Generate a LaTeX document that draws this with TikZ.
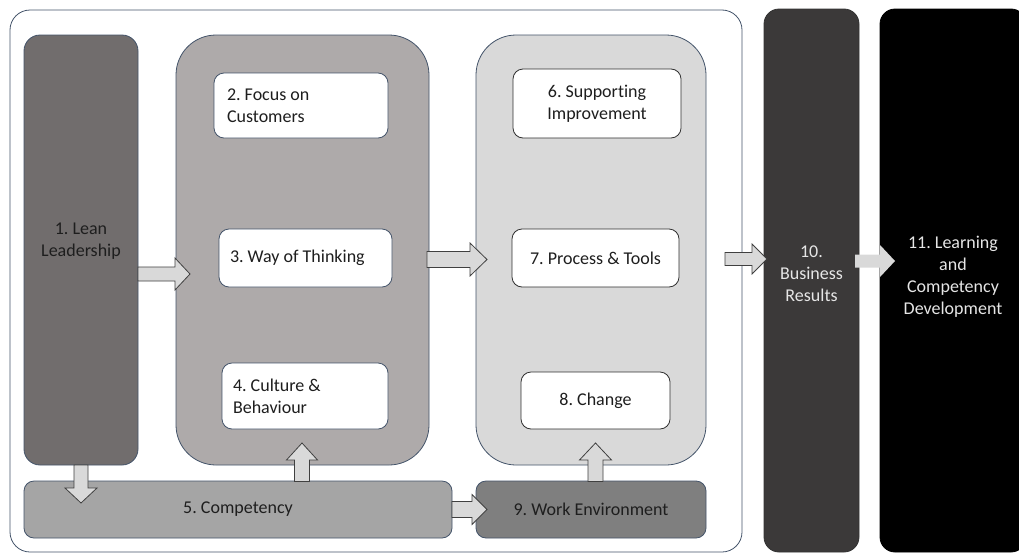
\documentclass[tikz,border=0pt]{standalone}
\usepackage{fontspec}
\setmainfont{Carlito}[Ligatures={NoCommon}]
\frenchspacing
\usetikzlibrary{calc}

\definecolor{edgeblue}{HTML}{44546A}
\definecolor{edgedark}{HTML}{303030}
\definecolor{inkdark}{HTML}{1E1E1E}
\definecolor{inklight}{HTML}{E6E6E6}
\definecolor{leadfill}{HTML}{716D6D}
\definecolor{groupAfill}{HTML}{AEAAAA}
\definecolor{compfill}{HTML}{A5A5A5}
\definecolor{groupBfill}{HTML}{D9D9D9}
\definecolor{workfill}{HTML}{7F7F7F}
\definecolor{resultfill}{HTML}{3B3939}
\definecolor{arrowfill}{HTML}{D9D9D9}
\definecolor{arrowedge}{HTML}{404040}

% block arrow from #2 to #3: half shaft #4, half head #5, head length #6
\newcommand\blockarrow[6][]{%
  \coordinate (hb) at ($(#3)!#6!(#2)$);
  \draw[arrowbody,#1]
    ($(#2)!#4!90:(#3)$) -- ($(hb)!#4!90:(#3)$) -- ($(hb)!#5!90:(#3)$)
    -- (#3)
    -- ($(hb)!#5!-90:(#3)$) -- ($(hb)!#4!-90:(#3)$) -- ($(#2)!#4!-90:(#3)$) -- cycle;
}

\tikzset{
  box/.style={rectangle, draw=edgeblue, line width=0.8pt, inner sep=0pt, outer sep=0pt,
    font=\fontsize{18}{22}\selectfont, text=inkdark},
  whitebox/.style={box, fill=white, rounded corners=10pt},
  leftbox/.style={whitebox, align=flush left, inner xsep=#1},
  arrowbody/.style={fill=arrowfill, draw=arrowedge, line width=0.8pt, line join=miter},
  txt/.style={font=\fontsize{18}{22}\selectfont, align=center, inner sep=0pt},
}

\begin{document}
\begin{tikzpicture}[x=1pt,y=-1pt]
\useasboundingbox (0,0) rectangle (1019,557);

% outer frame around the lean model
\node[box, fill=white, rounded corners=20pt, minimum width=732pt, minimum height=542pt]
  (frame) at (376,281) {};

% 1. Lean Leadership
\node[box, fill=leadfill, rounded corners=16pt, minimum width=114pt, minimum height=430pt,
  label={[txt, text=inkdark, yshift=9pt]center:1. Lean\\Leadership}]
  (lead) at (81,250) {};

% group with 2, 3, 4
\node[box, fill=groupAfill, rounded corners=40pt, minimum width=253pt, minimum height=430pt]
  (grpA) at (302.5,250) {};
\node[leftbox=13pt, text width=148pt, minimum height=65pt] (focus) at (301,105.5)
  {2. Focus on\\Customers};
\node[leftbox=11pt, text width=151pt, minimum height=58pt] (think) at (305.5,258)
  {3. Way of Thinking};
\node[leftbox=11pt, text width=144pt, minimum height=66pt] (culture) at (305,396)
  {4. Culture \&\\Behaviour};

% 5. Competency
\node[box, fill=compfill, rounded corners=10pt, minimum width=428pt, minimum height=57pt]
  (comp) at (238,509.5) {5. Competency};

% group with 6, 7, 8
\node[box, fill=groupBfill, rounded corners=40pt, minimum width=230pt, minimum height=430pt]
  (grpB) at (591,250) {};
\node[whitebox, draw=edgedark, align=center, minimum width=168pt, minimum height=69pt]
  (support) at (597,103.5) {6. Supporting\\Improvement};
\node[whitebox, draw=edgedark, align=center, minimum width=167pt, minimum height=58pt]
  (process) at (595.5,258) {7. Process \& Tools};
\node[whitebox, draw=edgedark, align=center, minimum width=149pt, minimum height=57pt]
  (change) at (595.5,400.5) {8. Change};

% 9. Work Environment
\node[box, fill=workfill, rounded corners=10pt, minimum width=230pt, minimum height=57pt]
  (work) at (591,509.5) {9. Work Environment};

% 10. Business Results
\node[box, draw=black!80, fill=resultfill, rounded corners=15pt, minimum width=95pt, minimum height=543pt,
  label={[txt, text=inklight, yshift=7pt]center:10.\\Business\\Results}]
  (results) at (811.5,280.5) {};

% 11. Learning and Competency Development
\node[box, draw=black, fill=black, rounded corners=15pt, minimum width=146pt, minimum height=543pt,
  label={[txt, text=inklight, yshift=4pt]center:11. Learning\\and\\Competency\\Development}]
  (learn) at (953,280.5) {};

% connecting block arrows
\coordinate (a1s) at ($(lead.east)+(0,24)$);
\coordinate (a1e) at ($(grpA.west)+(14,24)$);
\blockarrow{a1s}{a1e}{7pt}{16pt}{15pt}

\coordinate (a2s) at ($(grpA.east)+(-2,9.5)$);
\coordinate (a2e) at ($(grpB.west)+(11,9.5)$);
\blockarrow{a2s}{a2e}{8pt}{16.5pt}{17pt}

\coordinate (a3s) at ($(frame.east)+(-17,-22)$);
\coordinate (a3e) at ($(results.west)+(3,-21.5)$);
\blockarrow{a3s}{a3e}{6.5pt}{15pt}{15pt}

\coordinate (a4s) at ($(results.east)+(-4,-19.5)$);
\coordinate (a4e) at ($(learn.west)+(15,-19.5)$);
\blockarrow[draw=none]{a4s}{a4e}{6.5pt}{16pt}{15pt}

\coordinate (a5s) at (lead.south);
\coordinate (a5e) at ($(comp.north -| lead.south)+(0,22)$);
\blockarrow{a5s}{a5e}{7pt}{16pt}{15pt}

\coordinate (a6s) at ($(comp.north -| culture.south)+(-3,0.5)$);
\coordinate (a6e) at ($(culture.south)+(-3,14)$);
\blockarrow{a6s}{a6e}{7.5pt}{15.5pt}{17pt}

\coordinate (a7s) at ($(work.north -| change.south)+(0,0.5)$);
\coordinate (a7e) at ($(change.south)+(0,14)$);
\blockarrow{a7s}{a7e}{7.5pt}{16pt}{17pt}

\coordinate (a8s) at (comp.east);
\coordinate (a8e) at ($(work.west)+(11,0)$);
\blockarrow{a8s}{a8e}{8pt}{15pt}{15pt}
\end{tikzpicture}
\end{document}
